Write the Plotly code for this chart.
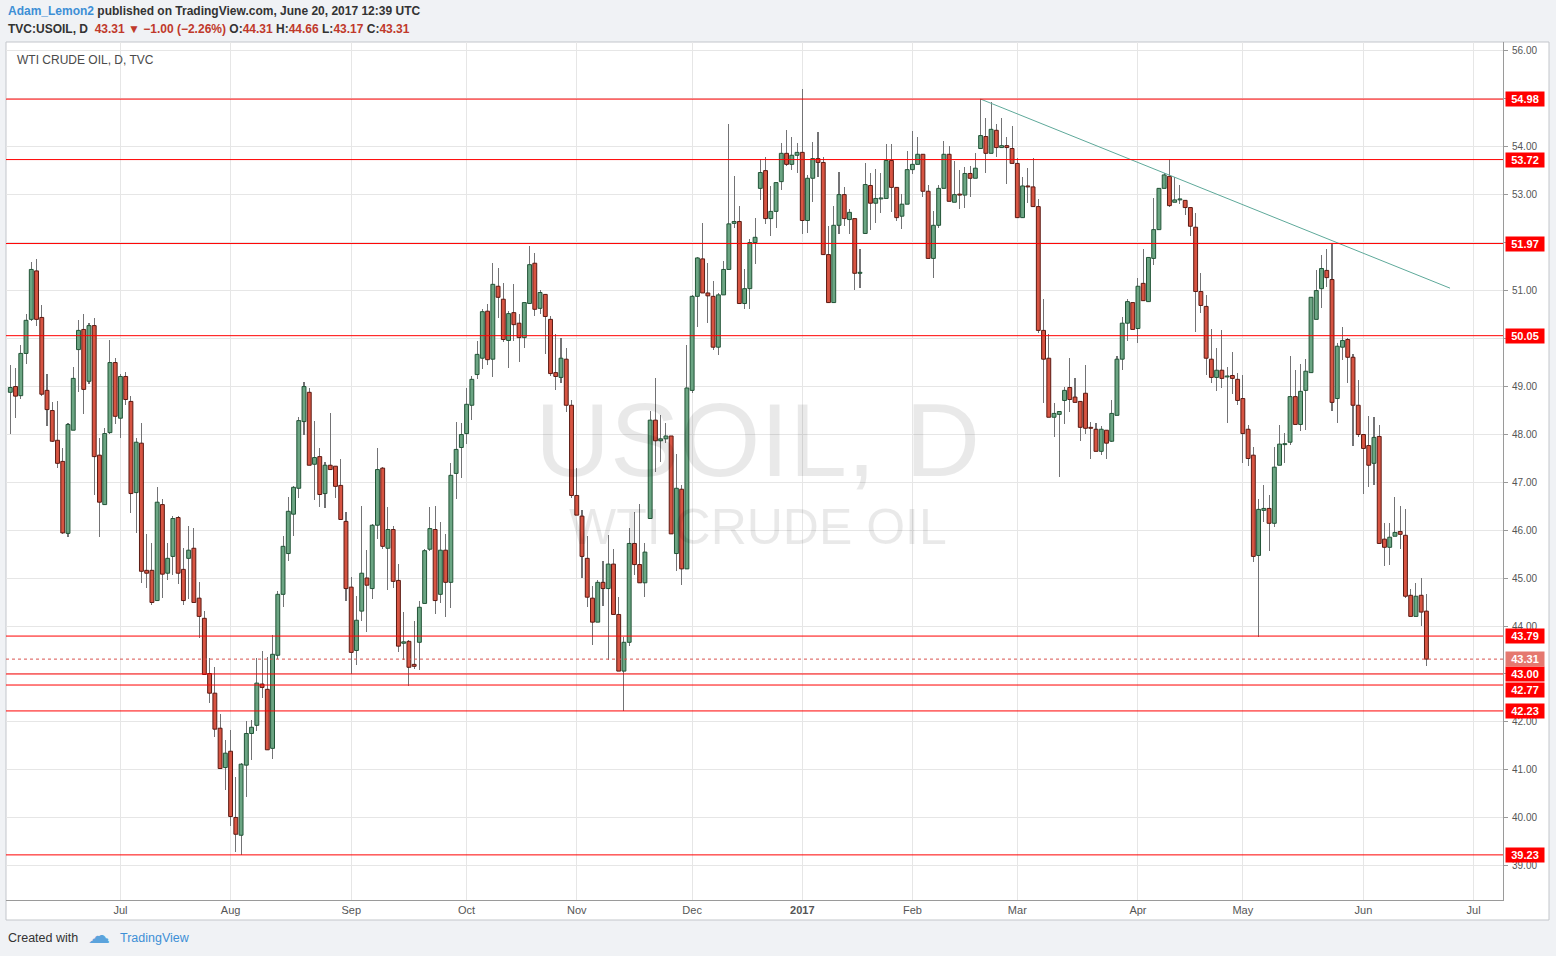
import plotly.graph_objects as go

# ---------------- data ----------------
opens = [48.87,48.99,48.80,49.68,50.39,51.40,50.43,48.91,48.49,47.87,47.43,45.93,48.08,49.76,50.18,49.10,50.26,47.56,46.53,48.03,
         49.49,48.33,49.20,48.68,46.78,47.81,45.16,45.16,44.53,46.53,45.10,45.45,46.26,45.18,45.41,45.62,44.58,44.16,43.01,42.60,
         41.87,41.05,41.39,40.01,39.64,41.10,41.76,41.93,42.79,42.68,41.45,43.39,44.66,45.51,46.33,46.87,48.26,48.87,47.37,47.53,
         46.76,47.35,47.33,46.93,46.18,44.81,43.49,44.31,45.00,44.78,46.10,47.29,45.62,46.01,44.95,43.64,43.68,43.20,43.66,44.47,
         45.60,46.01,44.66,45.58,44.91,47.18,47.72,48.01,48.60,49.24,49.58,50.56,49.56,51.08,50.81,49.95,50.53,50.31,50.01,50.72,
         51.56,50.62,50.91,50.39,49.28,49.18,49.56,48.60,46.72,46.29,45.41,44.58,44.08,44.91,44.78,45.29,44.24,43.06,43.66,45.72,
         45.28,44.90,46.24,48.29,47.86,47.90,47.96,45.51,46.85,45.19,48.91,50.87,51.65,50.94,50.87,49.81,50.90,51.43,52.39,52.43,
         50.72,51.03,51.99,53.12,53.49,52.49,52.64,53.26,53.85,53.62,53.81,53.87,52.45,53.33,53.74,53.66,51.74,50.74,52.35,52.99,
         52.47,52.49,51.35,52.18,53.18,52.81,52.90,52.91,53.70,53.14,52.54,52.79,53.51,53.62,53.83,53.06,51.66,52.35,53.12,53.83,
         52.83,53.00,52.98,53.43,53.33,53.95,54.20,53.85,54.33,53.97,54.01,53.95,53.64,52.51,53.17,53.15,52.74,50.16,49.58,48.35,
         48.41,48.70,48.97,48.77,48.68,48.85,48.14,48.10,47.64,48.08,47.85,48.39,49.56,50.31,50.74,50.20,51.14,50.76,51.66,52.26,
         53.12,53.37,52.83,52.88,52.87,52.72,52.31,50.97,50.66,49.56,49.18,49.33,49.19,49.22,49.14,48.74,48.10,47.56,45.47,46.41,
         46.45,46.14,47.35,47.78,47.83,48.78,48.20,48.91,49.28,50.39,51.03,51.41,51.22,48.74,49.81,49.97,49.60,48.60,47.99,47.76,
         47.39,47.95,45.81,45.64,45.87,45.97,45.89,44.64,44.20,44.64,44.31]
highs = [49.44,49.38,49.85,50.50,51.58,51.65,50.69,49.25,48.67,48.69,47.71,48.24,49.39,50.38,50.50,50.32,50.41,47.92,48.13,49.96,
         49.58,49.26,49.30,48.80,47.92,48.24,45.92,45.72,46.89,46.65,45.74,46.29,46.30,45.62,46.08,46.04,44.91,44.31,43.33,43.14,
         42.16,41.63,41.83,40.86,41.15,42.02,42.04,43.33,43.48,43.35,43.81,44.73,45.88,46.69,46.92,48.35,49.08,48.95,48.27,47.70,
         47.41,48.44,47.33,47.47,46.37,45.03,44.62,46.50,45.58,46.13,47.70,47.31,46.47,46.08,45.29,44.29,43.70,44.10,44.53,45.60,
         46.47,46.51,46.16,45.91,47.39,48.26,48.24,48.97,49.22,49.93,50.60,50.70,51.57,51.47,51.14,50.56,51.12,50.51,50.74,51.92,
         51.78,51.00,50.91,50.45,50.08,50.01,49.80,48.70,47.30,46.41,45.87,44.83,44.96,45.35,45.90,45.60,44.60,43.77,46.04,46.38,
         46.54,45.73,48.49,49.17,48.40,48.23,47.96,47.59,46.93,49.86,50.90,51.69,52.40,51.57,51.18,50.94,51.61,54.47,53.37,52.75,
         51.44,52.06,52.50,53.74,53.77,53.16,53.24,54.06,54.33,54.18,54.06,55.20,53.39,54.08,54.29,53.78,52.33,52.75,53.47,53.14,
         52.68,52.49,51.85,53.64,53.43,53.52,53.43,54.04,54.04,53.14,53.01,53.89,54.31,54.19,53.83,53.20,52.64,53.20,54.10,54.00,
         53.68,53.50,53.57,53.58,53.85,54.98,54.58,54.91,54.47,54.58,54.20,54.41,53.76,53.35,53.54,53.76,52.89,50.81,50.08,48.64,
         48.47,48.99,49.58,49.16,48.68,49.44,48.26,48.24,48.17,48.08,48.71,49.62,50.44,50.81,50.74,51.26,51.85,51.68,52.91,53.12,
         53.43,53.74,53.36,53.20,52.87,52.72,52.60,51.35,50.89,50.18,49.79,50.17,49.40,49.72,49.28,49.24,48.18,47.72,46.65,46.93,
         46.72,47.72,48.18,48.03,49.62,49.33,49.45,49.56,50.85,51.41,51.74,51.85,51.97,49.89,50.24,50.01,49.66,49.12,47.99,48.37,
         48.35,48.18,46.14,46.14,46.68,46.51,46.43,44.77,44.90,45.01,44.66]
lows = [48.01,48.34,48.74,49.47,50.35,50.25,48.80,48.17,47.84,47.30,45.92,45.86,48.08,48.88,48.42,49.05,46.74,45.86,46.53,48.00,
        48.20,47.92,48.60,46.36,45.94,44.90,44.80,44.44,44.53,44.59,44.96,45.07,44.88,44.44,44.57,44.49,43.76,42.99,42.39,41.69,
        41.03,40.58,39.84,39.28,39.23,40.44,41.20,41.82,42.49,41.42,41.22,43.32,44.40,45.36,45.88,46.66,47.97,47.35,46.63,46.47,
        46.45,47.26,46.66,46.22,44.53,43.01,43.18,44.10,43.87,44.57,45.81,45.60,44.76,44.80,43.45,43.29,42.76,43.10,43.08,44.47,
        45.56,44.24,44.47,44.19,44.38,46.64,47.08,47.80,48.29,49.14,49.35,49.43,49.18,50.42,49.92,49.38,49.93,49.51,49.80,50.72,
        50.47,50.51,49.66,49.20,48.91,49.06,48.45,46.66,46.31,44.99,44.39,43.60,44.08,44.41,43.30,44.24,43.06,42.23,43.58,45.07,
        44.90,44.60,46.24,47.20,47.42,47.82,45.92,45.15,44.86,45.19,48.85,50.23,50.94,50.32,49.75,49.64,50.90,51.43,52.30,50.72,
        50.60,50.60,51.55,52.88,52.37,52.12,52.30,53.08,53.59,53.51,53.45,52.17,52.19,52.84,53.36,51.74,50.74,50.74,52.16,52.33,
        52.16,51.00,51.05,52.18,52.25,52.39,52.60,52.91,52.63,52.45,52.28,52.79,53.41,53.62,52.94,51.66,51.26,52.30,53.12,52.85,
        52.83,52.68,52.72,52.93,53.33,53.95,53.43,53.85,53.78,53.97,53.22,53.64,52.51,52.51,52.81,52.74,50.10,48.64,48.35,47.94,
        47.11,48.20,48.47,48.66,47.86,48.01,47.47,47.64,47.57,47.47,47.83,48.39,49.33,49.93,50.18,49.90,50.78,50.76,51.53,52.26,
        53.12,52.74,52.83,52.80,52.56,52.12,50.12,50.53,49.24,49.06,48.90,48.97,48.24,48.83,48.61,47.39,47.33,45.33,43.78,46.16,
        45.56,46.06,47.35,47.39,47.78,48.20,48.06,48.08,49.28,50.39,50.62,51.06,48.49,48.22,49.54,49.06,47.76,47.93,46.76,46.89,
        46.93,45.72,45.24,45.28,45.87,45.60,44.58,44.20,44.20,44.01,43.17]
closes = [48.97,48.79,49.68,50.37,51.43,50.39,48.83,48.51,47.85,47.39,45.94,48.20,49.16,50.16,48.93,50.26,47.53,46.58,48.01,49.49,
          48.37,49.20,48.72,46.76,47.83,45.14,45.10,44.49,46.58,45.08,45.41,46.24,45.10,44.53,45.58,44.49,44.20,42.99,42.60,41.85,
          41.03,41.35,40.03,39.66,41.12,41.76,41.89,42.81,42.72,41.42,43.41,44.66,45.66,46.39,46.89,48.28,48.99,47.35,47.51,46.74,
          47.35,47.26,46.91,46.22,44.78,43.45,44.12,45.10,44.85,46.10,47.26,45.66,46.01,44.93,43.58,43.67,43.14,43.16,44.39,45.57,
          46.03,44.53,45.58,44.91,47.14,47.68,47.99,48.62,49.14,49.66,50.55,49.55,51.12,50.85,49.97,50.51,50.28,50.01,50.74,51.53,
          50.60,50.95,50.45,49.26,49.20,49.58,48.60,46.72,46.31,45.45,44.60,44.08,44.91,44.78,45.29,44.24,43.06,43.66,45.72,45.28,
          44.90,45.54,48.29,47.86,47.90,47.96,45.92,46.87,45.19,48.96,50.87,51.67,50.94,50.88,49.81,50.90,51.43,52.38,52.43,50.72,
          51.03,51.99,52.10,53.45,52.49,52.64,53.24,53.85,53.62,53.81,53.87,52.45,53.33,53.74,53.66,51.74,50.74,52.35,52.99,52.49,
          52.62,51.35,51.37,53.20,52.81,52.91,52.92,53.70,53.14,52.51,52.79,53.51,53.62,53.83,53.06,51.66,52.35,53.12,53.83,52.85,
          52.99,52.98,53.43,53.33,53.54,54.22,53.85,54.35,53.97,54.01,53.97,53.64,52.51,53.17,53.15,52.74,50.16,49.56,48.35,48.43,
          48.47,48.91,48.72,48.66,48.14,48.12,48.12,47.64,48.10,47.81,48.43,49.56,50.31,50.76,50.18,51.08,50.78,51.68,52.26,53.12,
          53.40,52.76,52.88,52.90,52.72,52.33,50.97,50.68,49.58,49.18,49.33,49.16,49.21,49.16,48.70,48.01,47.49,45.45,46.43,46.45,
          46.14,47.31,47.79,47.80,48.78,48.20,48.89,49.31,50.85,50.99,51.45,51.26,48.66,49.83,49.95,49.60,48.60,47.99,47.70,47.35,
          47.93,45.72,45.64,45.85,45.95,45.91,44.62,44.20,44.62,44.29,43.31]

month_idx = [21, 42, 65, 87, 108, 130, 151, 172, 192, 215, 235, 258, 279]
month_labels = ["Jul", "Aug", "Sep", "Oct", "Nov", "Dec", "<b>2017</b>", "Feb", "Mar", "Apr", "May", "Jun", "Jul"]

price_ticks = [39, 40, 41, 42, 43, 44, 45, 46, 47, 48, 49, 50, 51, 52, 53, 54, 55, 56]
# tick labels hidden behind the level price tags in the reference
hidden_ticks = [55, 52, 50, 43]

level_prices = [54.98, 53.72, 51.97, 50.05, 43.79, 43.00, 42.77, 42.23, 39.23]
level_label_shift = [0, 0, 0, 0, 0, 0, -5, 0, 0]
last_price = 43.31

trend_x = [185, 274.5]
trend_y = [54.98, 51.04]

# ---------------- styling ----------------
UP_FILL, UP_BORDER = "#6ba583", "#225437"
DN_FILL, DN_BORDER = "#d75442", "#5b1a13"
WICK = "#737375"
FONT = "Liberation Sans"

n = len(closes)
xs = list(range(n))
body_base = [min(o, c) for o, c in zip(opens, closes)]
body_h = [max(abs(c - o), 0.02) for o, c in zip(opens, closes)]
is_up = [c >= o for o, c in zip(opens, closes)]
fill_cols = [UP_FILL if u else DN_FILL for u in is_up]
line_cols = [UP_BORDER if u else DN_BORDER for u in is_up]

fig = go.Figure()

# wicks
fig.add_trace(go.Bar(
    x=xs, y=[h - l for h, l in zip(highs, lows)], base=lows,
    width=0.2, marker=dict(color=WICK, line=dict(width=0)),
    hoverinfo="skip", showlegend=False))
# bodies
fig.add_trace(go.Bar(
    x=xs, y=body_h, base=body_base, width=0.74,
    marker=dict(color=fill_cols, line=dict(color=line_cols, width=1)),
    showlegend=False))

# trend line
fig.add_trace(go.Scatter(x=trend_x, y=trend_y, mode="lines",
                         line=dict(color="#5ea99a", width=1), hoverinfo="skip", showlegend=False))

PL, PR, PT, PB = 6, 1503, 42, 900
def px_x(px):
    return (px - PL) / (PR - PL)
def px_y(py):
    return (PB - py) / (PB - PT)

shapes = []
shapes.append(dict(type="rect", xref="paper", yref="paper",
                   x0=px_x(6), x1=px_x(1549), y0=px_y(920), y1=px_y(42),
                   fillcolor="white", line=dict(color="#c3c6cb", width=1), layer="below"))
for p in level_prices:
    shapes.append(dict(type="line", xref="paper", yref="y", x0=0, x1=1, y0=p, y1=p,
                       line=dict(color="#ff0000", width=1)))
shapes.append(dict(type="line", xref="paper", yref="y", x0=0, x1=1, y0=last_price, y1=last_price,
                   line=dict(color="#d9534f", width=1, dash="dot")))

annotations = []
for p, s in zip(level_prices, level_label_shift):
    annotations.append(dict(xref="paper", yref="y", x=px_x(1505), y=p, yshift=s,
                            xanchor="left", yanchor="middle", showarrow=False,
                            text="<b>%.2f</b>" % p, bgcolor="#ff0000",
                            font=dict(family=FONT, size=11, color="white"),
                            width=36, height=12, borderpad=1))
annotations.append(dict(xref="paper", yref="y", x=px_x(1505), y=last_price,
                        xanchor="left", yanchor="middle", showarrow=False,
                        text="<b>%.2f</b>" % last_price, bgcolor="#e5786f",
                        font=dict(family=FONT, size=11, color="white"),
                        width=36, height=12, borderpad=1))

# watermark
annotations.append(dict(xref="paper", yref="paper", x=px_x(757), y=px_y(440),
                        xanchor="center", yanchor="middle", showarrow=False,
                        text="USOIL, D", font=dict(family=FONT, size=104, color="rgba(0,0,0,0.085)")))
annotations.append(dict(xref="paper", yref="paper", x=px_x(758), y=px_y(527),
                        xanchor="center", yanchor="middle", showarrow=False,
                        text="WTI CRUDE OIL", font=dict(family=FONT, size=50, color="rgba(0,0,0,0.085)")))

annotations.append(dict(xref="paper", yref="paper", x=px_x(15), y=px_y(60),
                        xanchor="left", yanchor="middle", showarrow=False,
                        text="WTI CRUDE OIL, D, TVC", font=dict(family=FONT, size=12, color="#4a4a4a")))

RED = "#c0392b"
annotations.append(dict(xref="paper", yref="paper", x=px_x(6), y=px_y(11),
                        xanchor="left", yanchor="middle", showarrow=False,
                        text='<b><span style="color:#3d8fd6">Adam_Lemon2</span> published on TradingView.com, June 20, 2017 12:39 UTC</b>',
                        font=dict(family=FONT, size=12, color="#333333")))
annotations.append(dict(xref="paper", yref="paper", x=px_x(6), y=px_y(29),
                        xanchor="left", yanchor="middle", showarrow=False,
                        text=('<b>TVC:USOIL, D  <span style="color:%s">43.31 ▼ −1.00 (−2.26%%)</span> '
                              'O:<span style="color:%s">44.31</span> H:<span style="color:%s">44.66</span> '
                              'L:<span style="color:%s">43.17</span> C:<span style="color:%s">43.31</span></b>')
                             % (RED, RED, RED, RED, RED),
                        font=dict(family=FONT, size=12, color="#333333")))
annotations.append(dict(xref="paper", yref="paper", x=px_x(6), y=px_y(938),
                        xanchor="left", yanchor="middle", showarrow=False,
                        text="Created with", font=dict(family=FONT, size=12.5, color="#333333")))
annotations.append(dict(xref="paper", yref="paper", x=px_x(86), y=px_y(936),
                        xanchor="left", yanchor="middle", showarrow=False,
                        text="☁", font=dict(family="DejaVu Sans", size=22, color="#5ba3dc")))
annotations.append(dict(xref="paper", yref="paper", x=px_x(118), y=px_y(938),
                        xanchor="left", yanchor="middle", showarrow=False,
                        text="TradingView", font=dict(family=FONT, size=12.5, color="#3d8fd6")))

fig.update_layout(
    width=1556, height=956,
    margin=dict(l=PL, r=1556 - PR, t=PT, b=956 - PB, pad=0),
    paper_bgcolor="#f0f2f5", plot_bgcolor="white",
    barmode="overlay", bargap=0,
    showlegend=False, hovermode=False,
    shapes=shapes, annotations=annotations,
    font=dict(family=FONT, size=11, color="#555555"),
    xaxis=dict(range=[-0.82, 284.6], tickmode="array", tickvals=month_idx, ticktext=month_labels,
               showgrid=True, gridcolor="#e6e6e6", gridwidth=1, zeroline=False,
               showline=True, linecolor="#9a9a9a", linewidth=1, ticks="",
               tickfont=dict(family=FONT, size=11, color="#555555")),
    yaxis=dict(range=[38.29, 56.17], side="right", tickmode="array", tickvals=price_ticks,
               ticktext=["" if v in hidden_ticks else "%.2f" % v for v in price_ticks],
               showgrid=True, gridcolor="#e6e6e6", gridwidth=1, zeroline=False,
               showline=True, linecolor="#9a9a9a", linewidth=1, ticks="outside", ticklen=4,
               ticklabelstandoff=2,
               tickcolor="#9a9a9a", tickfont=dict(family=FONT, size=10, color="#555555")),
)

fig.write_html("out.html", config={"displayModeBar": False, "staticPlot": True},
               post_script="document.body.style.margin='0px';document.body.style.overflow='hidden';")
